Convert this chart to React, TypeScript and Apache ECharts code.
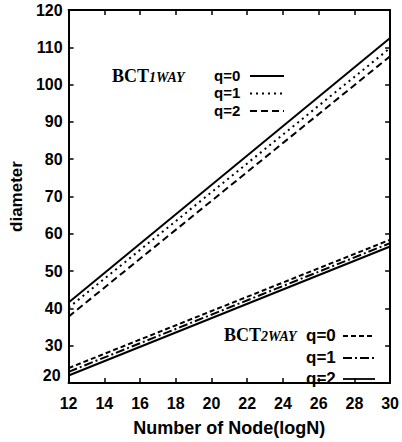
import React, { useEffect, useRef } from "react";
import * as echarts from "echarts";

const xValues = [12, 30];
const oneWayQ0 = [41.6, 112.5];
const oneWayQ1 = [40.2, 109.8];
const oneWayQ2 = [37.8, 107.6];
const twoWayQ0 = [24.0, 58.4];
const twoWayQ1 = [23.0, 57.5];
const twoWayQ2 = [22.0, 56.6];
const qLabels = ["q=0", "q=1", "q=2"];

const SANS = "'Liberation Sans', Arial, sans-serif";
const SERIF = "'Liberation Serif', 'DejaVu Serif', serif";

const DOTTED = [2, 4];
const DASHED = [7, 4];
const SHORT_DASH = [5, 3];
const DASH_DOT = [9, 3, 2, 3];

function pairs(ys: number[]) {
  return xValues.map((x, i) => [x, ys[i]]);
}

export default function App() {
  const ref = useRef<HTMLDivElement>(null);
  useEffect(() => {
    if (!ref.current) return;
    const chart = echarts.init(ref.current, null, { renderer: "svg" });
    const mk = (name: string, ys: number[], type: any) => ({
      name,
      type: "line",
      data: pairs(ys),
      symbol: "none",
      lineStyle: { color: "#000", width: 2, type },
      itemStyle: { color: "#000" },
    });

    const legendBlock = (tx: number, lx1: number, lx2: number, ys: number[], dashes: (number[] | null)[], fs: number) => {
      const els: any[] = [];
      ys.forEach((y, i) => {
        els.push({
          type: "text",
          x: tx,
          y,
          style: {
            text: qLabels[i],
            fontFamily: SANS,
            fontWeight: "bold",
            fontSize: fs,
            fill: "#000",
            verticalAlign: "middle",
            align: "left",
          },
        });
        els.push({
          type: "line",
          shape: { x1: lx1, y1: y + 1, x2: lx2, y2: y + 1 },
          style: { stroke: "#000", lineWidth: 1.8, lineDash: dashes[i] || undefined },
        });
      });
      return els;
    };

    chart.setOption({
      animation: false,
      backgroundColor: "#fff",
      grid: { left: 58, right: 8, top: 10, bottom: 50 },
      xAxis: [
        {
          type: "value",
          min: 12,
          max: 30,
          interval: 2,
          name: "Number of Node(logN)",
          nameLocation: "middle",
          nameGap: 36,
          nameTextStyle: { fontFamily: SANS, fontWeight: "bold", fontSize: 18, color: "#000" },
          axisLine: { lineStyle: { color: "#000", width: 2 } },
          axisTick: { inside: true, length: 5, lineStyle: { color: "#000", width: 1.5 } },
          axisLabel: { fontFamily: SANS, fontWeight: "bold", fontSize: 16, color: "#000", margin: 12 },
          splitLine: { show: false },
        },
        {
          type: "value",
          position: "top",
          min: 12,
          max: 30,
          interval: 2,
          axisLine: { lineStyle: { color: "#000", width: 2 } },
          axisTick: { inside: true, length: 5, lineStyle: { color: "#000", width: 1.5 } },
          axisLabel: { show: false },
          splitLine: { show: false },
        },
      ],
      yAxis: [
        {
          type: "value",
          min: 20,
          max: 120,
          interval: 10,
          name: "diameter",
          nameLocation: "middle",
          nameGap: 40,
          nameTextStyle: { fontFamily: SANS, fontWeight: "bold", fontSize: 17, color: "#000" },
          axisLine: { show: true, lineStyle: { color: "#000", width: 2 } },
          axisTick: { show: true, inside: true, length: 5, lineStyle: { color: "#000", width: 1.5 } },
          axisLabel: {
            fontFamily: SANS,
            fontWeight: "bold",
            fontSize: 16,
            color: "#000",
            margin: 6,
            formatter: (v: number) => (v === 20 ? "{low|20}" : String(v)),
            rich: { low: { fontFamily: SANS, fontWeight: "bold", fontSize: 16, color: "#000", padding: [0, 2, 16, 0] } },
          },
          splitLine: { show: false },
        },
        {
          type: "value",
          position: "right",
          min: 20,
          max: 120,
          interval: 10,
          axisLine: { show: true, lineStyle: { color: "#000", width: 2 } },
          axisTick: { show: true, inside: true, length: 5, lineStyle: { color: "#000", width: 1.5 } },
          axisLabel: { show: false },
          splitLine: { show: false },
        },
      ],
      graphic: [
        {
          type: "text",
          x: 112,
          y: 76,
          style: {
            text: "{a|BCT}{b|1WAY}",
            verticalAlign: "middle",
            rich: {
              a: { fontFamily: SERIF, fontWeight: "bold", fontSize: 18, fill: "#000" },
              b: { fontFamily: SERIF, fontWeight: "bold", fontStyle: "italic", fontSize: 14, fill: "#000", padding: [3, 0, 0, 0] },
            },
          },
        },
        {
          type: "text",
          x: 224,
          y: 335,
          style: {
            text: "{a|BCT}{b|2WAY}",
            verticalAlign: "middle",
            rich: {
              a: { fontFamily: SERIF, fontWeight: "bold", fontSize: 18, fill: "#000" },
              b: { fontFamily: SERIF, fontWeight: "bold", fontStyle: "italic", fontSize: 14, fill: "#000", padding: [3, 0, 0, 0] },
            },
          },
        },
        ...legendBlock(214, 250, 284, [75, 92.5, 110], [null, DOTTED, DASHED], 15),
        ...legendBlock(306, 343, 375, [335, 357, 378], [SHORT_DASH, DASH_DOT, null], 17),
      ],
      series: [
        mk("1WAY q=0", oneWayQ0, "solid"),
        mk("1WAY q=1", oneWayQ1, DOTTED),
        mk("1WAY q=2", oneWayQ2, DASHED),
        mk("2WAY q=0", twoWayQ0, SHORT_DASH),
        mk("2WAY q=1", twoWayQ1, DASH_DOT),
        mk("2WAY q=2", twoWayQ2, "solid"),
      ],
    });
    return () => chart.dispose();
  }, []);
  return <div ref={ref} style={{ position: "fixed", left: 0, top: 0, width: 402, height: 442 }} />;
}
